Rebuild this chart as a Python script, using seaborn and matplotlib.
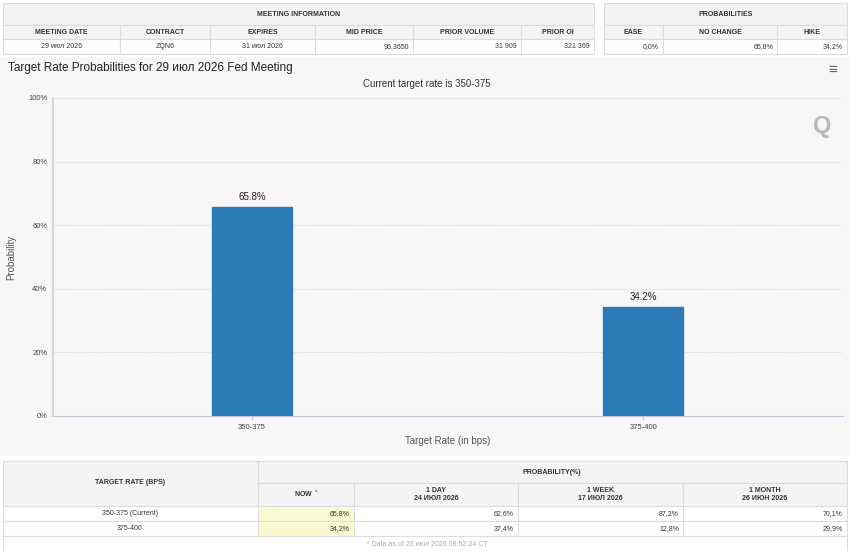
import seaborn as sns
import matplotlib.pyplot as plt
from matplotlib.patches import Rectangle

# ------------------------------------------------------------
# Data
# ------------------------------------------------------------
rates = ["350-375", "375-400"]
probs = [65.8, 34.2]

meeting_cols = ["MEETING DATE", "CONTRACT", "EXPIRES", "MID PRICE", "PRIOR VOLUME", "PRIOR OI"]
meeting_vals = ["29 июл 2026", "ZQN6", "31 июл 2026", "96,3650", "31 909", "321 369"]
prob_cols = ["EASE", "NO CHANGE", "HIKE"]
prob_vals = ["0,0%", "65,8%", "34,2%"]

hist_cols = ["NOW $^*$", "1 DAY\n24 ИЮЛ 2026", "1 WEEK\n17 ИЮЛ 2026", "1 MONTH\n26 ИЮН 2026"]
hist_rows = ["350-375 (Current)", "375-400"]
hist_vals = [["65,8%", "62,6%", "87,2%", "70,1%"],
             ["34,2%", "37,4%", "12,8%", "29,9%"]]
footnote = "* Data as of 26 июл 2026 08:52:24 CT"

W, H = 850, 551
fig = plt.figure(figsize=(W / 100, H / 100), dpi=100)
fig.patch.set_facecolor("white")

BORDER = "#dcdcdc"
HEAD_BG = "#f4f4f4"
TXT = "#333333"
plt.rcParams["font.family"] = ["Liberation Sans", "DejaVu Sans"]


def fx(x):
    return x / W


def fy(y):
    return 1 - y / H


def cell(x0, y0, x1, y1, face="white"):
    fig.patches.append(Rectangle((fx(x0), fy(y1)), fx(x1) - fx(x0), fy(y0) - fy(y1),
                                 transform=fig.transFigure, facecolor=face,
                                 edgecolor=BORDER, linewidth=0.8, zorder=1))


def txt(x, y, s, ha="center", size=5, weight="normal", color=TXT, **kw):
    fig.text(fx(x), fy(y), s, ha=ha, va="center", fontsize=size,
             fontweight=weight, color=color, zorder=5, **kw)


# ------------------------------------------------------------
# Top tables
# ------------------------------------------------------------
mx = [3, 120, 210, 315, 413, 521, 594]
cell(3, 3, 594, 25, HEAD_BG)
txt((3 + 594) / 2, 14, "MEETING INFORMATION", weight="bold")
for i, (c, v) in enumerate(zip(meeting_cols, meeting_vals)):
    cell(mx[i], 25, mx[i + 1], 39, HEAD_BG)
    cell(mx[i], 39, mx[i + 1], 54)
    txt((mx[i] + mx[i + 1]) / 2, 32, c, weight="bold")
    if i < 3:
        txt((mx[i] + mx[i + 1]) / 2, 47, v)
    else:
        txt(mx[i + 1] - 4, 47, v, ha="right")

px_ = [604, 663, 777, 847]
cell(604, 3, 847, 25, HEAD_BG)
txt((604 + 847) / 2, 14, "PROBABILITIES", weight="bold")
for i, (c, v) in enumerate(zip(prob_cols, prob_vals)):
    cell(px_[i], 25, px_[i + 1], 39, HEAD_BG)
    cell(px_[i], 39, px_[i + 1], 54)
    txt((px_[i] + px_[i + 1]) / 2, 32, c, weight="bold")
    txt(px_[i + 1] - 4, 47, v, ha="right")

# ------------------------------------------------------------
# Chart panel
# ------------------------------------------------------------
fig.patches.append(Rectangle((0, fy(456)), 1, fy(57) - fy(456), transform=fig.transFigure,
                             facecolor="#f7f7f7", edgecolor="none", zorder=-1))
txt(8, 68, "Target Rate Probabilities for 29 июл 2026 Fed Meeting", ha="left", size=8.5,
    color="#222222")
txt(427, 84, "Current target rate is 350-375", size=7, color="#333333")
txt(833, 70, "≡", size=11, color="#666666", weight="bold")
txt(822, 126, "Q", size=17, color="#b8b8b8", weight="bold")

ax = fig.add_axes([fx(53), fy(416), fx(843) - fx(53), fy(98) - fy(416)])
ax.set_zorder(2)
ax.set_facecolor("none")
sns.barplot(x=rates, y=probs, ax=ax, color="#2c7bb6", width=0.205, saturation=1,
            edgecolor="#2c7bb6", zorder=3)
ax.set_xlim(-0.509, 1.511)
ax.set_ylim(0, 100)
ax.set_yticks(range(0, 101, 20))
ax.set_yticklabels([f"{t}%" for t in range(0, 101, 20)])
ax.grid(axis="y", color="#d8d8d8", linestyle=(0, (1, 1)), linewidth=0.7, zorder=0)
ax.set_axisbelow(True)
for s in ["top", "right"]:
    ax.spines[s].set_visible(False)
ax.spines["left"].set_color("#d0d0d0")
ax.spines["left"].set_linewidth(1.2)
ax.spines["bottom"].set_color("#c0c8d8")
ax.tick_params(axis="y", length=0, labelsize=5.5, labelcolor="#444444", pad=4)
ax.tick_params(axis="x", length=3, color="#c0c8d8", labelsize=5.5, labelcolor="#444444", pad=3)
ax.set_xlabel("Target Rate (in bps)", fontsize=7, color="#555555", labelpad=3)
ax.set_ylabel("Probability", fontsize=7, color="#555555")
ax.yaxis.set_label_coords((16 - 53) / 790, 0.5)
for p, v in zip(ax.patches, probs):
    ax.text(p.get_x() + p.get_width() / 2, v + 1.5, f"{v}%", ha="center", va="bottom",
            fontsize=7, color="#222222")

# ------------------------------------------------------------
# Bottom table
# ------------------------------------------------------------
bx = [258, 354, 518, 683, 847]
cell(3, 461, 258, 506, HEAD_BG)
txt(130, 483, "TARGET RATE (BPS)", weight="bold")
cell(258, 461, 847, 483, HEAD_BG)
txt(552, 472, "PROBABILITY(%)", weight="bold")
for i, c in enumerate(hist_cols):
    cell(bx[i], 483, bx[i + 1], 506, HEAD_BG)
    txt((bx[i] + bx[i + 1]) / 2, 494.5, c, weight="bold", linespacing=1.3)
ry = [506, 521, 536]
for r, (name, vals) in enumerate(zip(hist_rows, hist_vals)):
    cell(3, ry[r], 258, ry[r + 1])
    txt(130, (ry[r] + ry[r + 1]) / 2, name)
    for i, v in enumerate(vals):
        cell(bx[i], ry[r], bx[i + 1], ry[r + 1], "#fafad2" if i == 0 else "white")
        txt(bx[i + 1] - 4, (ry[r] + ry[r + 1]) / 2, v, ha="right")
cell(3, 536, 847, 555)
txt(427, 545, footnote, color="#aaaaaa", size=5)

fig.savefig("out.png", dpi=100)
